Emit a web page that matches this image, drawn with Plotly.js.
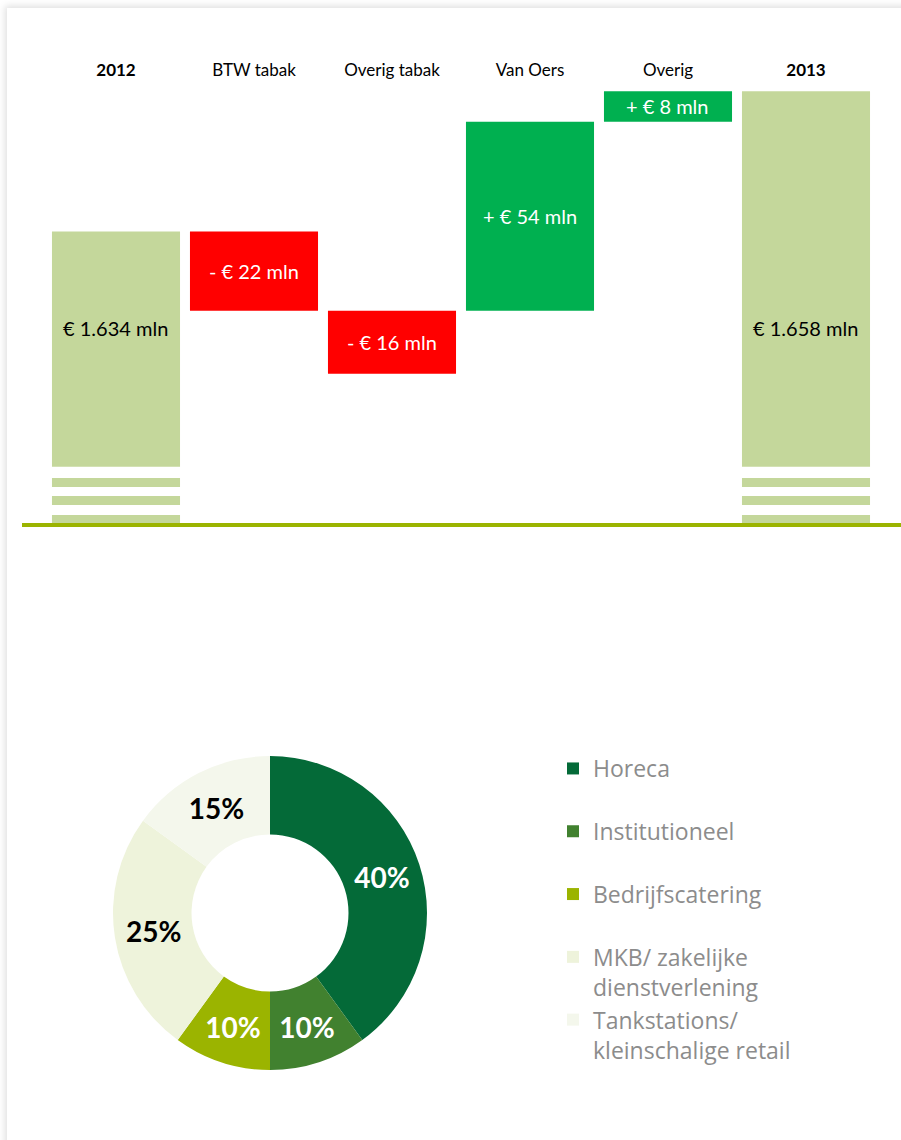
<!DOCTYPE html>
<html><head><meta charset="utf-8">
<script src="https://cdn.plot.ly/plotly-3.0.1.min.js"></script>
<style>
html,body{margin:0;padding:0;background:#fff;width:901px;height:1140px;overflow:hidden;}
#frame{position:absolute;left:7px;top:8px;width:940px;height:1180px;background:#fff;box-shadow:0 0 7px 2px rgba(0,0,0,0.13);}
#chart{position:absolute;left:0;top:0;width:901px;height:1140px;}
</style></head><body>
<div id="frame"></div><div id="chart"></div>
<script>
// ---- Waterfall data (mln euro) ----
const categories = ['2012', 'BTW tabak', 'Overig tabak', 'Van Oers', 'Overig', '2013'];
const changeMln = [1634, -22, -16, 54, 8, 1658];
const barKind = ['total', 'decrease', 'decrease', 'increase', 'increase', 'total'];
// bar extents as drawn in the reference (broken axis: totals start at the axis floor)
const barLowMln = [1553, 1612, 1594.5, 1612, 1664.5, 1553];
const barHighMln = [1634, 1634, 1612, 1664.5, 1673, 1673];

// ---- Donut data (%) ----
const segments = ['Horeca', 'Institutioneel', 'Bedrijfscatering', 'MKB/ zakelijke<br>dienstverlening', 'Tankstations/<br>kleinschalige retail'];
const segmentShare = [40, 10, 10, 25, 15];

// ---- styles ----
const kindColor = {total: '#C4D79B', decrease: '#FF0000', increase: '#00B050'};
const kindTextColor = {total: '#000000', decrease: '#FFFFFF', increase: '#FFFFFF'};
const segmentColors = ['#046A38', '#41812F', '#9BB400', '#EEF3DB', '#F4F7EC'];
const segmentTextColors = ['#FFFFFF', '#FFFFFF', '#FFFFFF', '#000000', '#000000'];

function thousands(v) { return String(Math.abs(v)).replace(/\B(?=(\d{3})+(?!\d))/g, '.'); }
function labelFor(v, kind) {
  if (kind === 'total') return '€ ' + thousands(v) + ' mln';
  return (v < 0 ? '- ' : '+ ') + '€ ' + thousands(v) + ' mln';
}

const yRange = [1553, 1676.1];
const totalLabelLevel = 1607.2;
const breakBands = [[1565.5, 1568.6], [1560.5, 1563.0], [1555.2, 1558.0]];

const barTrace = {
  type: 'bar', x: categories,
  base: barLowMln,
  y: barHighMln.map((h, i) => h - barLowMln[i]),
  marker: {color: barKind.map(k => kindColor[k]), line: {width: 0}},
  showlegend: false, hoverinfo: 'skip',
  xaxis: 'x', yaxis: 'y'
};

const pieTrace = {
  type: 'pie',
  labels: segments.map(s => s.indexOf('<br>') < 0 ? s + '<br>\u00a0' : s),
  values: segmentShare,
  hole: 0.5, sort: false, direction: 'clockwise', rotation: 0,
  domain: {x: [0.12542, 0.47392], y: [0.0614, 0.33684]},
  marker: {colors: segmentColors, line: {width: 0}},
  texttemplate: '<b>%{value}%</b>',
  textposition: 'inside',
  insidetextorientation: 'horizontal',
  textfont: {family: 'Lato', size: 28, color: segmentTextColors},
  hoverinfo: 'skip'
};

// annotation x given as the category index (numeric-looking names like '2012' would be read as indices)
const annotations = categories.map((c, i) => ({
  x: i, xref: 'x', yref: 'y',
  y: barKind[i] === 'total' ? totalLabelLevel : (barLowMln[i] + barHighMln[i]) / 2,
  text: labelFor(changeMln[i], barKind[i]),
  showarrow: false,
  font: {family: 'Lato', size: 20, color: kindTextColor[barKind[i]]}
}));

const shapes = breakBands.map(b => ({
  type: 'rect', xref: 'paper', yref: 'y', x0: 0.03, x1: 1, y0: b[0], y1: b[1],
  fillcolor: '#FFFFFF', line: {width: 0}, layer: 'above'
}));
shapes.push({type: 'line', xref: 'paper', yref: 'paper', x0: 22/901, x1: 1, y0: 1 - 525/1140, y1: 1 - 525/1140,
  line: {color: '#9BB400', width: 4}});

const layout = {
  width: 901, height: 1140,
  margin: {l: 0, r: 0, t: 0, b: 0},
  paper_bgcolor: 'rgba(0,0,0,0)', plot_bgcolor: 'rgba(0,0,0,0)',
  font: {family: 'Lato', color: '#000'},
  bargap: 0.072,
  xaxis: {
    type: 'category', autorange: false, range: [-0.5, categories.length - 0.5],
    domain: [0.05216, 0.97114], side: 'top', showgrid: false, zeroline: false, showline: false,
    ticks: '', tickfont: {family: 'Lato', size: 17, color: '#000'},
    tickmode: 'array', tickvals: categories,
    ticktext: categories.map((c, i) => barKind[i] === 'total' ? '<b>' + c + '</b>' : c),
    fixedrange: true
  },
  yaxis: {domain: [0.54123, 0.92982], range: yRange, autorange: false, visible: false, fixedrange: true},
  showlegend: true,
  legend: {
    x: 553/901, y: 1 - 747/1140, xanchor: 'left', yanchor: 'top',
    font: {family: 'Open Sans', size: 23, color: '#8C8C8C'},
    valign: 'top', bgcolor: 'rgba(0,0,0,0)', traceorder: 'normal'
  },
  annotations: annotations,
  shapes: shapes
};

Plotly.newPlot('chart', [barTrace, pieTrace], layout, {staticPlot: true, displayModeBar: false});
</script>
</body></html>
